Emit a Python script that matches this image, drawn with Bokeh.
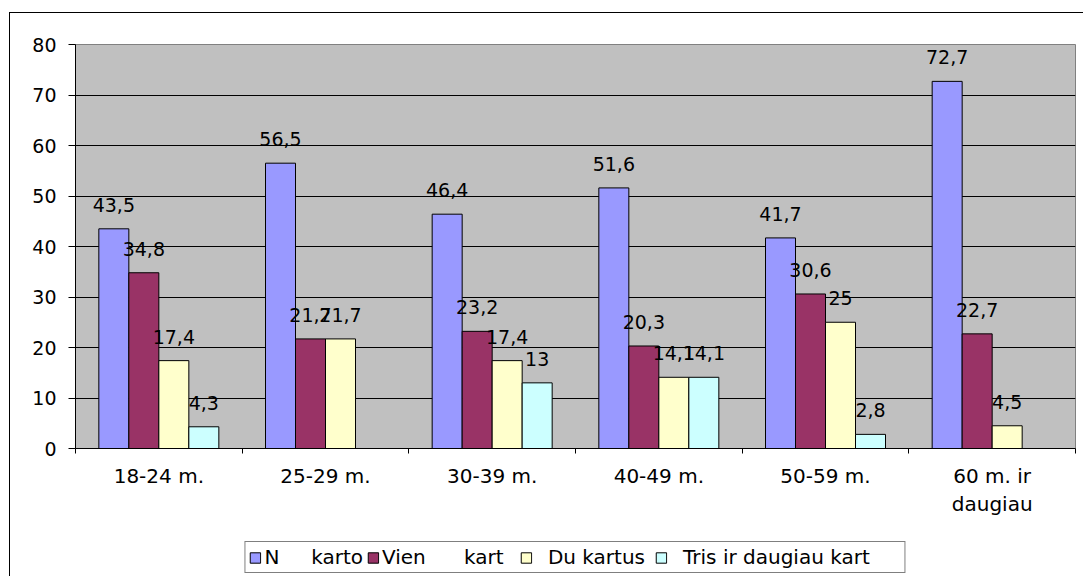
from bokeh.plotting import figure
from bokeh.layouts import column
from bokeh.models import ColumnDataSource, FixedTicker, Legend, LegendItem, Range1d, InlineStyleSheet
from bokeh.core.properties import value
from bokeh.embed import file_html
from bokeh.resources import INLINE

categories = ["18-24 m.", "25-29 m.", "30-39 m.", "40-49 m.", "50-59 m.", "60 m. ir\ndaugiau"]
series_names = ["N     karto", "Vien      kart  ", "  Du kartus ", "  Tris ir daugiau kart     "]
ne_karto = [43.5, 56.5, 46.4, 51.6, 41.7, 72.7]
viena_karta = [34.8, 21.7, 23.2, 20.3, 30.6, 22.7]
du_kartus = [17.4, 21.7, 17.4, 14.1, 25.0, 4.5]
tris_ir_daugiau = [4.3, None, 13.0, 14.1, 2.8, None]
y_ticks = [0, 10, 20, 30, 40, 50, 60, 70, 80]
colors = ["#9999FF", "#993366", "#FFFFCC", "#CCFFFF"]

series = [ne_karto, viena_karta, du_kartus, tris_ir_daugiau]
offsets = [-0.27, -0.09, 0.09, 0.27]
bar_w = 0.18
FONT = "DejaVu Sans"

outer_border = InlineStyleSheet(css="""
:host::after {
  content: "";
  position: absolute;
  left: 9px; top: 12px; right: 0px; bottom: 0px;
  border-top: 1px solid black;
  border-left: 1px solid black;
  pointer-events: none;
}
""")

p = figure(width=1083, height=538, output_backend="svg", toolbar_location=None,
           x_range=Range1d(0, 6), y_range=Range1d(0, 80),
           min_border_left=75, min_border_right=8, min_border_top=44, min_border_bottom=90)
p.background_fill_color = "#C0C0C0"
p.border_fill_color = "white"
p.outline_line_color = "#808080"
p.outline_line_width = 1

# legend strip below the chart (same bars, drawn out of its view, only the legend shows)
pl = figure(width=1083, height=38, output_backend="svg", toolbar_location=None,
            x_range=Range1d(0, 6), y_range=Range1d(1000, 1001),
            x_axis_type=None, y_axis_type=None,
            min_border_left=66, min_border_right=0, min_border_top=0, min_border_bottom=0)
pl.background_fill_color = "white"
pl.border_fill_color = "white"
pl.outline_line_color = None

items = []
for name, vals, off, col in zip(series_names, series, offsets, colors):
    xs, ys, labs = [], [], []
    for i, v in enumerate(vals):
        if v is None:
            continue
        xs.append(i + 0.5 + off)
        ys.append(v)
        labs.append(("%g" % v).replace(".", ","))
    src = ColumnDataSource(dict(x=xs, top=ys, lab=labs))
    p.vbar(x="x", top="top", width=bar_w, bottom=0, source=src,
           fill_color=col, line_color="black", line_width=1)
    p.text(x="x", y="top", text="lab", source=src, text_align="center",
           text_baseline="alphabetic", y_offset=-24, text_font=value(FONT),
           text_font_size="19px", text_color="black")
    r = pl.vbar(x="x", top="top", width=bar_w, bottom=0, source=src,
                fill_color=col, line_color="black", line_width=1)
    items.append(LegendItem(label=name, renderers=[r]))

# axes
p.xaxis.ticker = FixedTicker(ticks=[i + 0.5 for i in range(len(categories))],
                             minor_ticks=list(range(len(categories) + 1)))
p.xaxis.major_label_overrides = {i + 0.5: c for i, c in enumerate(categories)}
p.xaxis.major_tick_line_color = None
p.xaxis.major_tick_out = 0
p.xaxis.major_tick_in = 0
p.xaxis.minor_tick_out = 5
p.xaxis.minor_tick_in = 0
p.xaxis.minor_tick_line_color = "black"
p.xaxis.major_label_standoff = 10
p.xaxis.major_label_text_font = FONT
p.xaxis.major_label_text_font_size = "20px"
p.xaxis.major_label_text_color = "black"
p.xaxis.axis_line_color = "black"

p.yaxis.ticker = FixedTicker(ticks=y_ticks)
p.yaxis.major_tick_out = 7
p.yaxis.major_tick_in = 0
p.yaxis.minor_tick_line_color = None
p.yaxis.major_label_standoff = 12
p.yaxis.major_label_text_font = FONT
p.yaxis.major_label_text_font_size = "19px"
p.yaxis.major_label_text_color = "black"
p.yaxis.axis_line_color = "black"
p.yaxis.major_tick_line_color = "black"

p.xgrid.grid_line_color = None
p.ygrid.ticker = FixedTicker(ticks=y_ticks)
p.ygrid.grid_line_color = "black"
p.ygrid.grid_line_width = 1

legend = Legend(items=items, orientation="horizontal", location="top_center",
                border_line_color="black", border_line_width=1,
                background_fill_color="white", background_fill_alpha=1,
                label_text_font=FONT, label_text_font_size="20px", label_text_color="black",
                glyph_width=13, glyph_height=13, label_standoff=3, spacing=3,
                padding=3, margin=3)
pl.add_layout(legend, "center")

layout = column(p, pl, spacing=0, stylesheets=[outer_border])

open("out.html", "w").write(file_html(layout, INLINE))
